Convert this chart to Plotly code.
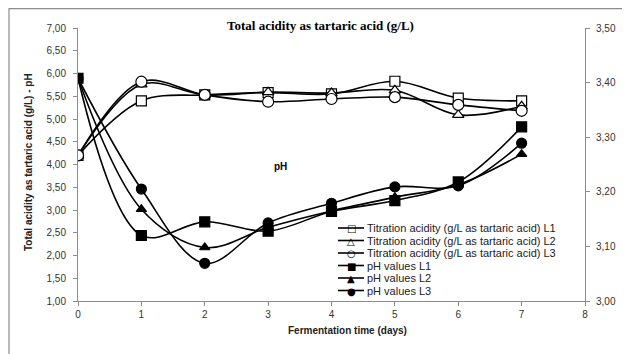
import plotly.graph_objects as go

days = [0, 1, 2, 3, 4, 5, 6, 7]

ta_L1 = [4.20, 5.40, 5.53, 5.58, 5.55, 5.83, 5.46, 5.40]
ta_L2 = [4.20, 5.76, 5.53, 5.59, 5.57, 5.63, 5.09, 5.28]
ta_L3 = [4.20, 5.82, 5.53, 5.38, 5.44, 5.48, 5.31, 5.18]

ph_L1 = [3.408, 3.120, 3.145, 3.128, 3.164, 3.184, 3.218, 3.319]
ph_L2 = [3.408, 3.168, 3.098, 3.135, 3.165, 3.190, 3.213, 3.269]
ph_L3 = [3.408, 3.205, 3.069, 3.143, 3.179, 3.209, 3.211, 3.289]

left_ticks = [1.0, 1.5, 2.0, 2.5, 3.0, 3.5, 4.0, 4.5, 5.0, 5.5, 6.0, 6.5, 7.0]
right_ticks = [3.0, 3.1, 3.2, 3.3, 3.4, 3.5]
x_ticks = [0, 1, 2, 3, 4, 5, 6, 7, 8]

names = [
    "Titration acidity (g/L as tartaric acid) L1",
    "Titration acidity (g/L as tartaric acid) L2",
    "Titration acidity (g/L as tartaric acid) L3",
    "pH values L1",
    "pH values L2",
    "pH values L3",
]
legend_glyphs = ["\u25A1", "\u25B3", "\u25CB", "\u25A0", "\u25B2", "\u25CF"]

# page is offset by the 8px default body margin
OFF = 8
W, H = 630 - OFF, 354 - OFF
L, R, T, B = 78 - OFF, 45, 28 - OFF, 53
PW, PH = W - L - R, H - T - B


def px_x(p):
    return (p - OFF - L) / PW


def px_y(p):
    return (H - B - (p - OFF)) / PH


fig = go.Figure()

series = [
    (ta_L1, "square", "white", "y", 10),
    (ta_L2, "triangle-up", "white", "y", 10),
    (ta_L3, "circle", "white", "y", 11),
    (ph_L1, "square", "black", "y2", 10),
    (ph_L2, "triangle-up", "black", "y2", 9),
    (ph_L3, "circle", "black", "y2", 10),
]

for (vals, sym, fill, ax, sz), nm in zip(series, names):
    fig.add_trace(go.Scatter(
        x=days, y=vals, name=nm, yaxis=ax,
        mode="lines+markers", showlegend=False,
        line=dict(color="black", width=1.6, shape="spline", smoothing=1.0),
        marker=dict(symbol=sym, size=sz, color=fill,
                    line=dict(color="black", width=1.2)),
    ))

axis_common = dict(
    showgrid=False, zeroline=False, showline=True, linecolor="#8c8c8c",
    linewidth=1, ticks="outside", ticklen=4, tickcolor="#8c8c8c",
    automargin=False,
    tickfont=dict(family="Liberation Sans, Arial", size=10, color="#333333"),
)

annotations = [
    dict(text="<b>Total acidity as tartaric acid (g/L)</b>",
         xref="paper", yref="paper", x=px_x(320), y=px_y(25),
         xanchor="center", yanchor="middle", showarrow=False,
         font=dict(family="Liberation Serif, Times New Roman", size=13, color="black")),
    dict(text="<b>pH</b>",
         xref="x", yref="y", x=3.19, y=3.95,
         xanchor="center", yanchor="middle", showarrow=False,
         font=dict(family="Liberation Sans, Arial", size=10, color="black")),
    dict(text="<b>Fermentation time (days)</b>",
         xref="paper", yref="paper", x=px_x(347), y=px_y(330),
         xanchor="center", yanchor="middle", showarrow=False,
         font=dict(family="Liberation Sans, Arial", size=10, color="#222222")),
    dict(text="<b>Total acidity as tartaric acid (g/L) - pH</b>",
         xref="paper", yref="paper", x=px_x(28), y=px_y(162),
         xanchor="center", yanchor="middle", showarrow=False, textangle=-90,
         font=dict(family="Liberation Sans, Arial", size=10, color="#222222")),
]

shapes = [
    dict(type="rect", xref="paper", yref="paper",
         x0=px_x(9), x1=1.3, y0=-0.4, y1=px_y(OFF + 0.7),
         line=dict(color="#8c8c8c", width=1.2), fillcolor="rgba(0,0,0,0)",
         layer="below"),
]

leg_rows = [228, 240.5, 253, 265.5, 278, 290.5]
for nm, gl, ry in zip(names, legend_glyphs, leg_rows):
    shapes.append(dict(type="line", xref="paper", yref="paper",
                       x0=px_x(338), x1=px_x(364), y0=px_y(ry), y1=px_y(ry),
                       line=dict(color="black", width=1.6)))
    annotations.append(dict(text=gl, xref="paper", yref="paper",
                            x=px_x(351), y=px_y(ry + 0.5), xanchor="center", yanchor="middle",
                            showarrow=False,
                            font=dict(family="DejaVu Sans", size=10, color="black")))
    annotations.append(dict(text=nm, xref="paper", yref="paper",
                            x=px_x(365), y=px_y(ry), xanchor="left", yanchor="middle",
                            showarrow=False,
                            font=dict(family="Liberation Sans, Arial", size=11, color="#222222")))

fig.update_layout(
    width=W, height=H,
    margin=dict(l=L, r=R, t=T, b=B),
    paper_bgcolor="white", plot_bgcolor="white",
    separators=",.",
    showlegend=False,
    xaxis=dict(range=[0, 8], tickvals=x_ticks, tickformat="d", **axis_common),
    yaxis=dict(range=[1, 7], tickvals=left_ticks, tickformat=".2f",
               ticklabelstandoff=5, **axis_common),
    yaxis2=dict(range=[3.0, 3.5], tickvals=right_ticks, tickformat=".2f",
                overlaying="y", side="right", ticklabelstandoff=4, **axis_common),
    annotations=annotations,
    shapes=shapes,
)

fig.write_html("out.html")
